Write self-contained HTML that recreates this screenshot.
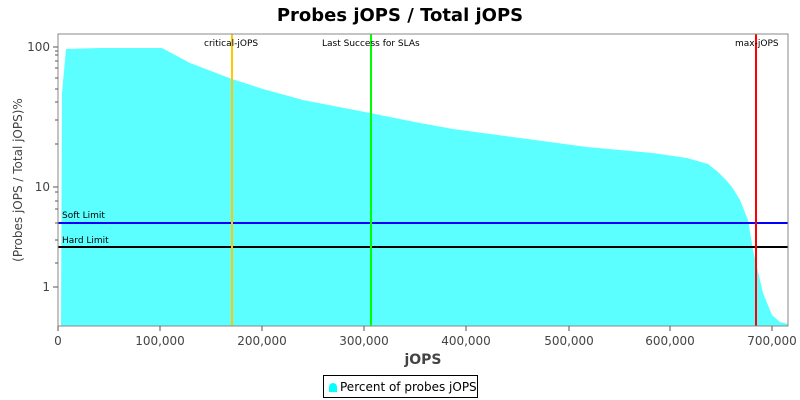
<!DOCTYPE html>
<html><head><meta charset="utf-8"><style>
html,body{margin:0;padding:0;background:#fff;}
svg{display:block;font-family:"DejaVu Sans","Liberation Sans",sans-serif;}
</style></head><body>
<svg width="800" height="400" viewBox="0 0 800 400" xmlns="http://www.w3.org/2000/svg">
<rect width="800" height="400" fill="#fff"/>
<text x="400" y="21" text-anchor="middle" font-size="18" font-weight="bold" fill="#000">Probes jOPS / Total jOPS</text>
<polygon fill="#5cffff" points="60,326 61,325 62,93 66,49 100,48 162,48 190,63 232,79 263,89 303,100 370,113 420,123 453,129 520,138 587,147 653,153 687,158 708,164 718,172 726,180 732,187 740,200 748,220 753,250 763,293 772,315 780,322 788,324 788,326"/>
<line x1="58" y1="223" x2="788" y2="223" stroke="#0000ff" stroke-width="2"/>
<line x1="58" y1="247" x2="788" y2="247" stroke="#000" stroke-width="2"/>
<line x1="232" y1="34" x2="232" y2="326" stroke="#ffc800" stroke-width="2"/>
<line x1="371" y1="34" x2="371" y2="326" stroke="#00ff00" stroke-width="2"/>
<line x1="756" y1="34" x2="756" y2="326" stroke="#ff0000" stroke-width="2"/>
<g font-size="9" fill="#000">
<text x="62" y="218">Soft Limit</text>
<text x="62" y="243">Hard Limit</text>
<text x="204" y="46">critical-jOPS</text>
<text x="322" y="46">Last Success for SLAs</text>
<text x="735" y="46">max-jOPS</text>
</g>
<rect x="58" y="34" width="730" height="292" fill="none" stroke="#888" stroke-width="1"/>
<g stroke="#555" stroke-width="1">
<line x1="53" y1="47" x2="58" y2="47"/><line x1="53" y1="187" x2="58" y2="187"/><line x1="53" y1="287" x2="58" y2="287"/>
<line x1="55" y1="51" x2="58" y2="51"/><line x1="55" y1="55" x2="58" y2="55"/><line x1="55" y1="61" x2="58" y2="61"/><line x1="55" y1="68" x2="58" y2="68"/><line x1="55" y1="78" x2="58" y2="78"/><line x1="55" y1="89" x2="58" y2="89"/><line x1="55" y1="102" x2="58" y2="102"/><line x1="55" y1="120" x2="58" y2="120"/><line x1="55" y1="144" x2="58" y2="144"/>
<line x1="55" y1="192" x2="58" y2="192"/><line x1="55" y1="201" x2="58" y2="201"/><line x1="55" y1="209" x2="58" y2="209"/><line x1="55" y1="223" x2="58" y2="223"/><line x1="55" y1="240" x2="58" y2="240"/><line x1="55" y1="263" x2="58" y2="263"/>
</g>
<g stroke="#555" stroke-width="1">
<line x1="58" y1="326" x2="58" y2="331"/><line x1="160" y1="326" x2="160" y2="331"/><line x1="262" y1="326" x2="262" y2="331"/><line x1="364" y1="326" x2="364" y2="331"/><line x1="466" y1="326" x2="466" y2="331"/><line x1="569" y1="326" x2="569" y2="331"/><line x1="670" y1="326" x2="670" y2="331"/><line x1="772" y1="326" x2="772" y2="331"/>
</g>
<g font-size="12" fill="#444" text-anchor="end">
<text x="50" y="51">100</text><text x="50" y="191">10</text><text x="50" y="291">1</text>
</g>
<g font-size="12" fill="#444" text-anchor="middle">
<text x="58" y="345">0</text><text x="160" y="345">100,000</text><text x="262" y="345">200,000</text><text x="364" y="345">300,000</text><text x="466" y="345">400,000</text><text x="569" y="345">500,000</text><text x="670" y="345">600,000</text><text x="772" y="345">700,000</text>
</g>
<text x="423" y="364" text-anchor="middle" font-size="14" font-weight="bold" fill="#444">jOPS</text>
<text transform="translate(22,180) rotate(-90)" text-anchor="middle" font-size="12" fill="#444">(Probes jOPS / Total jOPS)%</text>
<rect x="323.5" y="375.5" width="154" height="22" fill="#fff" stroke="#000"/>
<path d="M329,392 L329,388 Q329,383 333,383 Q337,383 337,388 L337,392 Z" fill="#00ffff"/>
<text x="340" y="391" font-size="12" fill="#000">Percent of probes jOPS</text>
</svg>
</body></html>
